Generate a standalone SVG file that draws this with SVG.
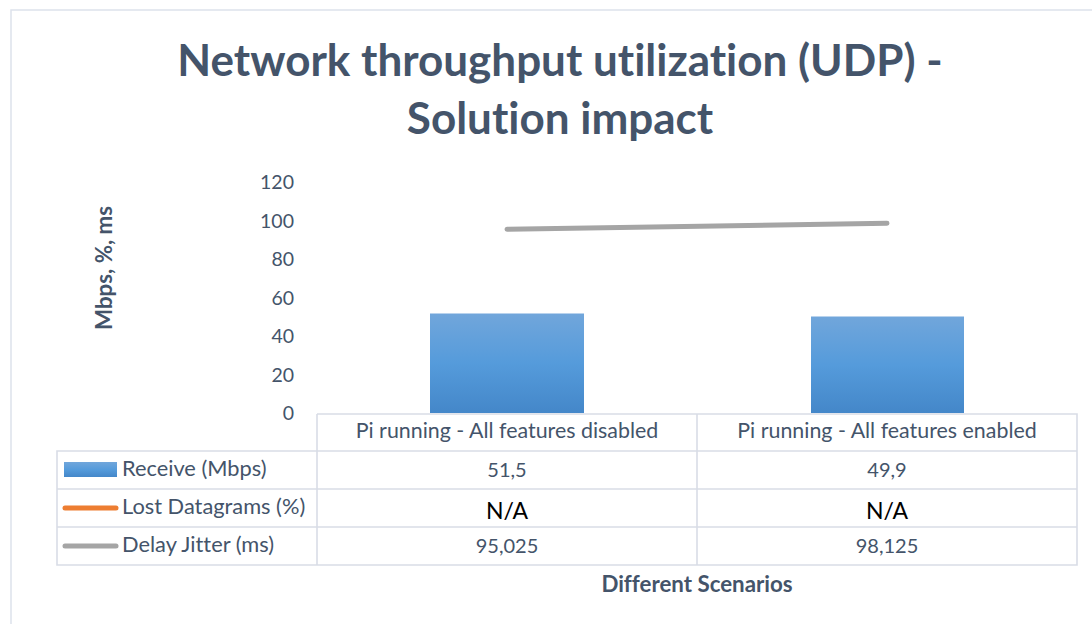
<svg xmlns="http://www.w3.org/2000/svg" width="1092" height="624" viewBox="0 0 1092 624">
  <defs>
    <linearGradient id="barFill" x1="0" y1="0" x2="0" y2="1">
      <stop offset="0" stop-color="#71A6DB"/>
      <stop offset="0.5" stop-color="#559BDB"/>
      <stop offset="1" stop-color="#4487C9"/>
    </linearGradient>
    <style>
      text { font-variant-ligatures: none; }
      .txt { font-family: Lato, "Open Sans", "Liberation Sans", sans-serif; fill: #44546A; }
      .title { font-size: 44px; font-weight: bold; }
      .tick { font-size: 19.5px; text-anchor: end; }
      .cell { font-size: 21.4px; text-anchor: middle; }
      .num { font-size: 20px; text-anchor: middle; }
      .leg { font-size: 21.8px; }
      .axis-title { font-size: 22.3px; font-weight: bold; text-anchor: middle; }
      .na { font-family: Lato, "Open Sans", "Liberation Sans", sans-serif; fill: #000; font-size: 23px; text-anchor: middle; }
      .grid { stroke: #D9DDE6; stroke-width: 1.6; fill: none; }
      .jitter { stroke: #A5A5A5; stroke-width: 5; stroke-linecap: round; fill: none; }
      .lost { stroke: #ED7D31; stroke-width: 5; stroke-linecap: round; fill: none; }
    </style>
  </defs>

  <rect x="0" y="0" width="1092" height="624" fill="#FFFFFF"/>
  <!-- chart area frame -->
  <rect x="11" y="10" width="1100" height="700" fill="none" stroke="#DDE2EC" stroke-width="1.5"/>

  <!-- title -->
  <g id="title" class="txt title">
    <text x="560" y="76" text-anchor="middle">Network throughput utilization (UDP) -</text>
    <text x="560" y="134" text-anchor="middle">Solution impact</text>
  </g>

  <!-- value axis -->
  <g id="value-axis" class="txt tick">
    <text x="294" y="189">120</text>
    <text x="294" y="227.5">100</text>
    <text x="294" y="266">80</text>
    <text x="294" y="304.5">60</text>
    <text x="294" y="343">40</text>
    <text x="294" y="381.5">20</text>
    <text x="294" y="420">0</text>
  </g>
  <g id="value-axis-title" class="txt axis-title">
    <text transform="translate(112 268) rotate(-90)">Mbps, %, ms</text>
  </g>

  <!-- Receive (Mbps) bars -->
  <g id="series-receive">
    <rect x="430" y="313.5" width="154" height="99.5" fill="url(#barFill)"/>
    <rect x="811" y="316.5" width="153" height="96.5" fill="url(#barFill)"/>
  </g>

  <!-- Delay Jitter (ms) line -->
  <g id="series-jitter">
    <line class="jitter" x1="507" y1="229.3" x2="887" y2="223.3"/>
  </g>

  <!-- data table -->
  <g id="data-table">
    <path class="grid" d="M317 414 H1077 V565 H57 V451 H1077 M57 489 H1077 M57 527 H1077 M317 414 V565 M697 414 V565"/>
    <g class="txt cell">
      <text x="507" y="438">Pi running - All features disabled</text>
      <text x="887" y="438">Pi running - All features enabled</text>
    </g>
    <g class="txt num">
      <text x="507" y="477">51,5</text>
      <text x="887" y="477">49,9</text>
      <text x="507" y="553">95,025</text>
      <text x="887" y="553">98,125</text>
    </g>
    <text class="na" x="507" y="519">N/A</text>
    <text class="na" x="887" y="519">N/A</text>
  </g>

  <!-- legend keys inside the table -->
  <g id="legend-receive">
    <rect x="64" y="462" width="53" height="15" fill="url(#barFill)"/>
    <text class="txt leg" x="122" y="476">Receive (Mbps)</text>
  </g>
  <g id="legend-lost">
    <line class="lost" x1="65" y1="508" x2="116" y2="508"/>
    <text class="txt leg" x="122" y="514">Lost Datagrams (%)</text>
  </g>
  <g id="legend-jitter">
    <line class="jitter" x1="65" y1="546" x2="116" y2="546"/>
    <text class="txt leg" x="122" y="552">Delay Jitter (ms)</text>
  </g>

  <!-- category axis title -->
  <g id="category-axis-title" class="txt axis-title">
    <text x="697" y="592">Different Scenarios</text>
  </g>
</svg>
